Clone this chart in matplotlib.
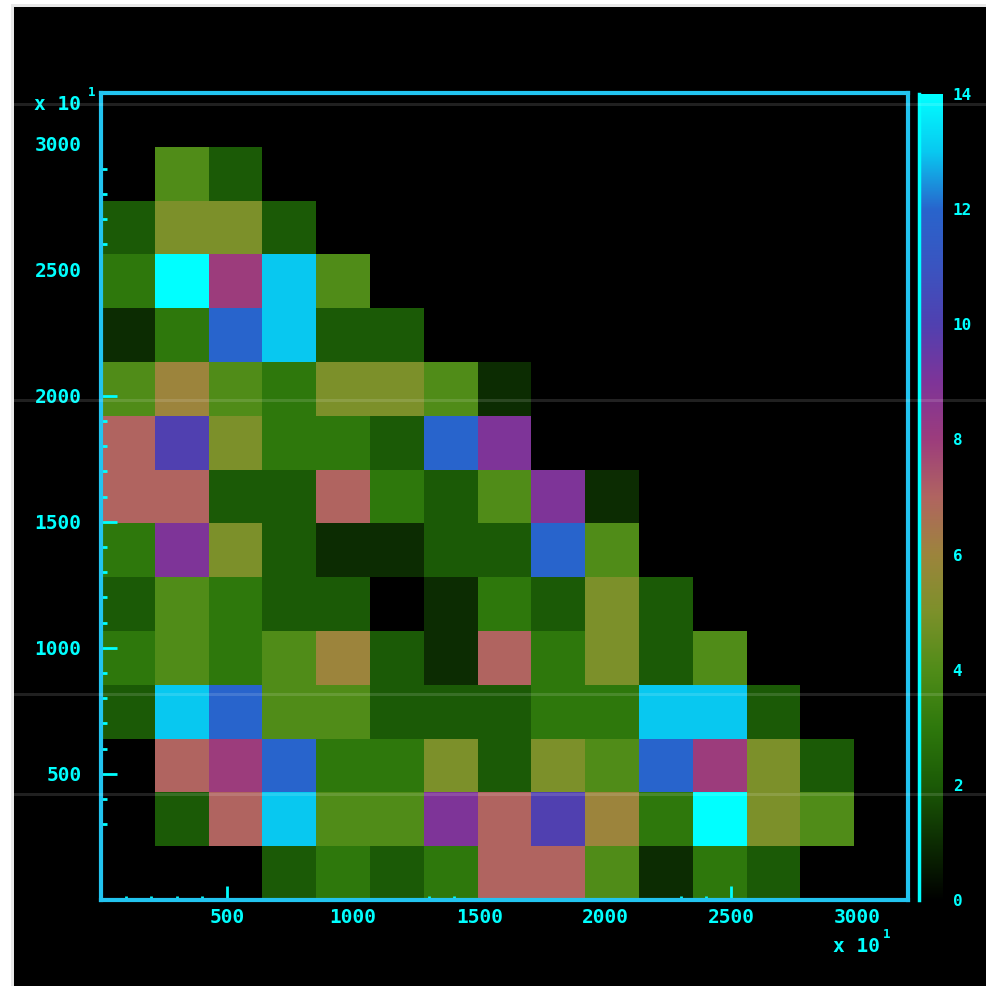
import matplotlib
matplotlib.use("Agg")
import matplotlib.pyplot as plt
import numpy as np
from matplotlib.colors import LinearSegmentedColormap
from matplotlib.ticker import FixedLocator
from matplotlib.lines import Line2D
from matplotlib.patches import Rectangle

# cell values, bottom row first (15x15 bins over 0..3200, last row/col empty)
grid = [
    [0, 0, 0, 2, 3, 2, 3, 7, 7, 4, 1, 3, 2, 0],
    [0, 2, 7, 13, 4, 4, 9, 7, 10, 6, 3, 14, 5, 4],
    [0, 7, 8, 12, 3, 3, 5, 2, 5, 4, 12, 8, 5, 2],
    [2, 13, 12, 4, 4, 2, 2, 2, 3, 3, 13, 13, 2, 0],
    [3, 4, 3, 4, 6, 2, 1, 7, 3, 5, 2, 4, 0, 0],
    [2, 4, 3, 2, 2, 0, 1, 3, 2, 5, 2, 0, 0, 0],
    [3, 9, 5, 2, 1, 1, 2, 2, 12, 4, 0, 0, 0, 0],
    [7, 7, 2, 2, 7, 3, 2, 4, 9, 1, 0, 0, 0, 0],
    [7, 10, 5, 3, 3, 2, 12, 9, 0, 0, 0, 0, 0, 0],
    [4, 6, 4, 3, 5, 5, 4, 1, 0, 0, 0, 0, 0, 0],
    [1, 3, 12, 13, 2, 2, 0, 0, 0, 0, 0, 0, 0, 0],
    [3, 14, 8, 13, 4, 0, 0, 0, 0, 0, 0, 0, 0, 0],
    [2, 5, 5, 2, 0, 0, 0, 0, 0, 0, 0, 0, 0, 0],
    [0, 4, 2, 0, 0, 0, 0, 0, 0, 0, 0, 0, 0, 0],
]
bin_edges = np.linspace(0, 3200, 16)[:15]

tick_vals = [500, 1000, 1500, 2000, 2500, 3000]
tick_text = ["500", "1000", "1500", "2000", "2500", "3000"]
x_minor = [100, 200, 300, 400, 1300, 1400, 2300, 2400]
y_minor = [300, 400, 600, 700, 800, 900, 1100, 1200, 1300, 1400,
           1600, 1700, 1800, 1900, 2600, 2700, 2800, 2900]
x_major_shown = [500, 2500]
y_major_shown = [500, 1000, 1500, 2000]

cbar_ticks = [0, 2, 4, 6, 8, 10, 12, 14]

# colour levels 0..14
level_colors = ["#000000", "#0c2c02", "#1b5a06", "#2e780c", "#508c18",
                "#7c902a", "#9c843c", "#b06460", "#9c3c7c", "#7e3498",
                "#5040b0", "#3a54c0", "#2864cc", "#08c8f0", "#00ffff"]
cmap = LinearSegmentedColormap.from_list(
    "crt", [(i / 14, c) for i, c in enumerate(level_colors)], N=1401)

W, H = 987, 986
fig = plt.figure(figsize=(W / 100, H / 100), dpi=100, facecolor="white")
fig.patches.append(Rectangle((11 / W, 0), 1, 1 - 4 / H, transform=fig.transFigure,
                             facecolor="#e8e8e8", edgecolor="none", zorder=-12))
fig.patches.append(Rectangle((14 / W, 0), 1, 1 - 7 / H, transform=fig.transFigure,
                             facecolor="black", edgecolor="none", zorder=-11))

ax = fig.add_axes([101 / W, 1 - 900 / H, 807 / W, 807 / H])
ax.set_facecolor("black")
mesh = ax.pcolormesh(bin_edges, bin_edges, np.array(grid), cmap=cmap,
                     vmin=0, vmax=14, shading="flat")
ax.set_xlim(0, 3200)
ax.set_ylim(0, 3200)

spine_col = "#22c4f0"
for s in ax.spines.values():
    s.set_color(spine_col)
    s.set_linewidth(3)

lab_font = dict(family="DejaVu Sans Mono", weight="bold", size=14)
ax.set_xticks(tick_vals)
ax.set_xticklabels(tick_text, fontdict=lab_font)
ax.set_yticks(tick_vals)
ax.set_yticklabels(tick_text, fontdict=lab_font)
ax.xaxis.set_minor_locator(FixedLocator(x_minor))
ax.yaxis.set_minor_locator(FixedLocator(y_minor))
ax.tick_params(which="both", direction="in", color="#00ffff", labelcolor="#00ffff")
ax.xaxis.set_tick_params(which="major", length=10, width=2, pad=6)
ax.xaxis.set_tick_params(which="minor", length=3, width=2)
ax.yaxis.set_tick_params(which="major", length=11.5, width=2, pad=14)
ax.yaxis.set_tick_params(which="minor", length=4.5, width=2)

for v, t in zip(tick_vals, ax.xaxis.get_major_ticks()):
    t.tick1line.set_visible(v in x_major_shown)
for v, t in zip(tick_vals, ax.yaxis.get_major_ticks()):
    t.tick1line.set_visible(v in y_major_shown)

# colour bar
cax = fig.add_axes([918.5 / W, 1 - 900 / H, 24.5 / W, 806 / H])
cb = fig.colorbar(mesh, cax=cax, ticks=cbar_ticks)
cb.outline.set_visible(False)
cax.spines["left"].set_visible(True)
cax.spines["left"].set_color("#00ffff")
cax.spines["left"].set_linewidth(2.5)
cax.tick_params(length=0, pad=7, labelcolor="#00ffff")
for lbl in cax.get_yticklabels():
    lbl.set_fontfamily("DejaVu Sans Mono")
    lbl.set_fontweight("bold")
    lbl.set_fontsize(11.5)

# exponent labels
fig.text(81 / W, 1 - 104 / H, "x 10", color="#00ffff", ha="right", va="center",
         **lab_font)
fig.text(92 / W, 1 - 92 / H, "1", color="#00ffff", ha="center", va="center",
         family="DejaVu Sans Mono", weight="bold", size=9)
fig.text(880 / W, 1 - 946 / H, "x 10", color="#00ffff", ha="right", va="center",
         **lab_font)
fig.text(887 / W, 1 - 934 / H, "1", color="#00ffff", ha="center", va="center",
         family="DejaVu Sans Mono", weight="bold", size=9)

# faint scan lines
for yp in [104, 400, 694, 794]:
    fig.add_artist(Line2D([14 / W, 1], [1 - yp / H, 1 - yp / H],
                          transform=fig.transFigure, color="white",
                          alpha=0.13, linewidth=2.2, zorder=10))

fig.savefig("out.png", dpi=100, facecolor=fig.get_facecolor())
